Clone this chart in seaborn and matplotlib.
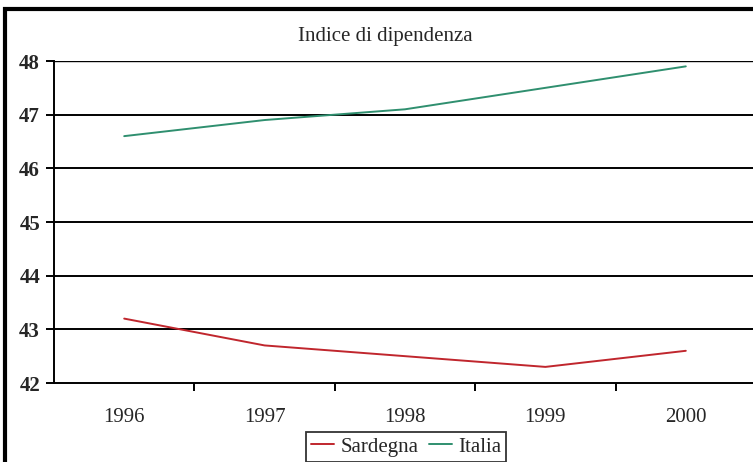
import matplotlib
matplotlib.use("Agg")
import matplotlib.pyplot as plt
from matplotlib.patches import Rectangle
import pandas as pd
import seaborn as sns

years = ["1996", "1997", "1998", "1999", "2000"]
sardegna = [43.2, 42.7, 42.5, 42.3, 42.6]
italia = [46.6, 46.9, 47.1, 47.5, 47.9]
series_names = ["Sardegna", "Italia"]
colors = ["#c0262d", "#2f8f6f"]
y_ticks = [42, 43, 44, 45, 46, 47, 48]

df = pd.DataFrame({
    "anno": list(range(len(years))) * 2,
    "valore": sardegna + italia,
    "serie": [series_names[0]] * len(years) + [series_names[1]] * len(years),
})

sns.set_style("white")
plt.rcParams['font.family'] = ['Liberation Serif', 'DejaVu Serif']

fig = plt.figure(figsize=(7.53, 4.62), dpi=100)
ax = fig.add_axes([54 / 753, 1 - 383 / 462, 702 / 753, 322 / 462])

for yv in y_ticks[1:]:
    ax.axhline(yv, color="black", lw=1.4 if yv < 48 else 1.0, zorder=1)

sns.lineplot(data=df, x="anno", y="valore", hue="serie", palette=colors,
             linewidth=1.4, ax=ax, legend=False, zorder=3)

ax.set_xlim(-0.5, len(years) - 0.5)
ax.set_ylim(42, 48)
ax.set_yticks(y_ticks)
ax.set_yticklabels([str(v) for v in y_ticks], fontsize=15, fontweight="bold")
ax.set_xticks([i + 0.5 for i in range(len(years) - 1)])
ax.set_xticklabels([])
ax.set_xticks(range(len(years)), minor=True)
ax.set_xticklabels(years, minor=True, fontsize=15)
ax.tick_params(axis="x", which="major", direction="out", length=6, width=1.4, color="black", bottom=True)
ax.tick_params(axis="x", which="minor", length=0, pad=18)
ax.tick_params(axis="y", direction="out", length=6, width=1.4, color="black", left=True, pad=4)
ax.set_xlabel("")
ax.set_ylabel("")

for side in ["top", "right"]:
    ax.spines[side].set_visible(False)
for side in ["left", "bottom"]:
    ax.spines[side].set_color("black")
    ax.spines[side].set_linewidth(1.4)

fig.text(385 / 753, 1 - 37 / 462, "Indice di dipendenza", ha="center", va="center", fontsize=15)

handles = [plt.Line2D([], [], color=c, lw=1.4) for c in colors]
leg = fig.legend(handles, series_names, loc="upper center", ncol=2,
                 bbox_to_anchor=(406 / 753, 1 - 432 / 462), fontsize=15,
                 frameon=True, fancybox=False, handlelength=1.1, handletextpad=0.3,
                 columnspacing=0.5, borderpad=0.25, borderaxespad=0)
leg.get_frame().set_edgecolor("black")
leg.get_frame().set_linewidth(1.3)

# outer frame of the chart (only left/top visible in the crop)
fig.patches.append(Rectangle((5 / 753, -0.05), 1.2, 1 - 9 / 462 + 0.05, transform=fig.transFigure,
                             fill=False, edgecolor="black", lw=3, zorder=10))

fig.savefig("out.png", dpi=100)
